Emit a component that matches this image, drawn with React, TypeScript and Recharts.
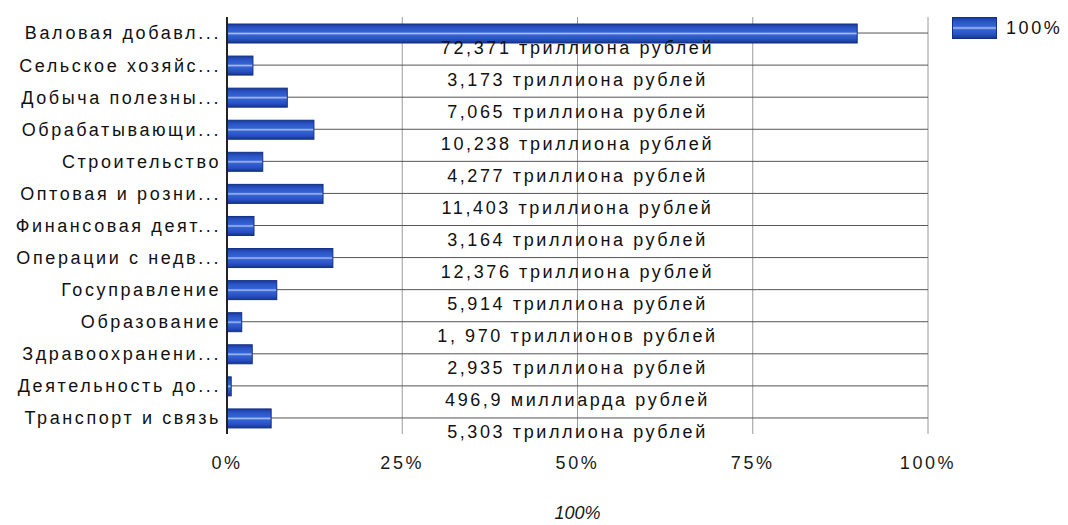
import React from 'react';
import { BarChart, Bar, XAxis, YAxis, CartesianGrid, LabelList } from 'recharts';

// labels as Google Charts truncated them
const categories = [
  'Валовая добавл...',
  'Сельское хозяйс...',
  'Добыча полезны...',
  'Обрабатывающи...',
  'Строительство',
  'Оптовая и розни...',
  'Финансовая деят...',
  'Операции с недв...',
  'Госуправление',
  'Образование',
  'Здравоохранени...',
  'Деятельность до...',
  'Транспорт и связь',
];

// share, %
const shares = [89.9, 3.7, 8.6, 12.4, 5.1, 13.7, 3.85, 15.1, 7.1, 2.1, 3.6, 0.6, 6.3];

const amounts = [
  '72,371 триллиона рублей',
  '3,173 триллиона рублей',
  '7,065 триллиона рублей',
  '10,238 триллиона рублей',
  '4,277 триллиона рублей',
  '11,403 триллиона рублей',
  '3,164 триллиона рублей',
  '12,376 триллиона рублей',
  '5,914 триллиона рублей',
  '1, 970 триллионов рублей',
  '2,935 триллиона рублей',
  '496,9 миллиарда рублей',
  '5,303 триллиона рублей',
];

const xTicks = [0, 25, 50, 75, 100];
const seriesName = '100%';

const data = categories.map((name, i) => ({ name, value: shares[i], amount: amounts[i] }));

const W = 1068;
const H = 525;
const margin = { top: 17, right: 140, bottom: 0, left: 0 };
const yAxisWidth = 227;
const plotLeft = margin.left + yAxisWidth;
const plotCenter = plotLeft + (W - margin.right - plotLeft) / 2;

const font = '"Liberation Sans", Arial, sans-serif';
const spacing = 2.6;

const BarShape = (props: any) => {
  const { x, y, width, height } = props;
  if (!width || width <= 0) return null;
  return (
    <rect x={x} y={y} width={width} height={height} fill="url(#barGrad)" stroke="#132f82" strokeWidth={1} />
  );
};

const AmountLabel = (props: any) => {
  const vb = props.viewBox || props;
  return (
    <text
      x={plotCenter}
      y={vb.y + vb.height / 2 + 14}
      textAnchor="middle"
      dominantBaseline="central"
      fill="#111"
      fontSize={18}
      fontFamily={font}
      letterSpacing={spacing}
    >
      {props.value}
    </text>
  );
};

export default function App() {
  return (
    <div style={{ position: 'absolute', left: 0, top: 0, width: W, height: H, background: '#fff' }}>
      <svg width={0} height={0} style={{ position: 'absolute' }}>
        <defs>
          <linearGradient id="barGrad" x1="0" y1="0" x2="0" y2="1">
            <stop offset="0%" stopColor="#1b3a9c" />
            <stop offset="20%" stopColor="#2a55c6" />
            <stop offset="42%" stopColor="#3563d4" />
            <stop offset="50%" stopColor="#a9bdf0" />
            <stop offset="58%" stopColor="#3563d4" />
            <stop offset="82%" stopColor="#2550c2" />
            <stop offset="100%" stopColor="#17348d" />
          </linearGradient>
        </defs>
      </svg>
      <BarChart
        width={W}
        height={H}
        data={data}
        layout="vertical"
        margin={margin}
        barSize={19}
        style={{ fontFamily: font }}
      >
        <CartesianGrid horizontal={false} stroke="#9a9a9a" syncWithTicks />
        <CartesianGrid vertical={false} stroke="#555" syncWithTicks />
        <XAxis
          type="number"
          domain={[0, 100]}
          ticks={xTicks}
          tickFormatter={(v: number) => `${v}%`}
          axisLine={false}
          tickLine={false}
          tickSize={0}
          tickMargin={22}
          height={91}
          tick={{ fill: '#1a1a1a', fontSize: 18, letterSpacing: spacing }}
          label={{ value: seriesName, position: 'insideBottom', offset: 6, fill: '#1a1a1a', fontSize: 18, fontStyle: 'italic' }}
        />
        <YAxis
          type="category"
          dataKey="name"
          width={yAxisWidth}
          interval={0}
          axisLine={{ stroke: '#222', strokeWidth: 2 }}
          tickLine={false}
          tickSize={0}
          tickMargin={6}
          tick={{ fill: '#111', fontSize: 18, letterSpacing: spacing }}
        />
        <Bar dataKey="value" name={seriesName} isAnimationActive={false} shape={BarShape}>
          <LabelList dataKey="amount" content={AmountLabel} />
        </Bar>
      </BarChart>
      <div
        style={{
          position: 'absolute',
          left: 952,
          top: 17,
          display: 'flex',
          alignItems: 'center',
          fontFamily: font,
          fontSize: 18,
          letterSpacing: spacing,
          color: '#111',
        }}
      >
        <svg width={45} height={22} style={{ marginRight: 9 }}>
          <rect x={0.5} y={0.5} width={44} height={21} fill="url(#barGrad)" stroke="#132f82" />
        </svg>
        {seriesName}
      </div>
    </div>
  );
}
